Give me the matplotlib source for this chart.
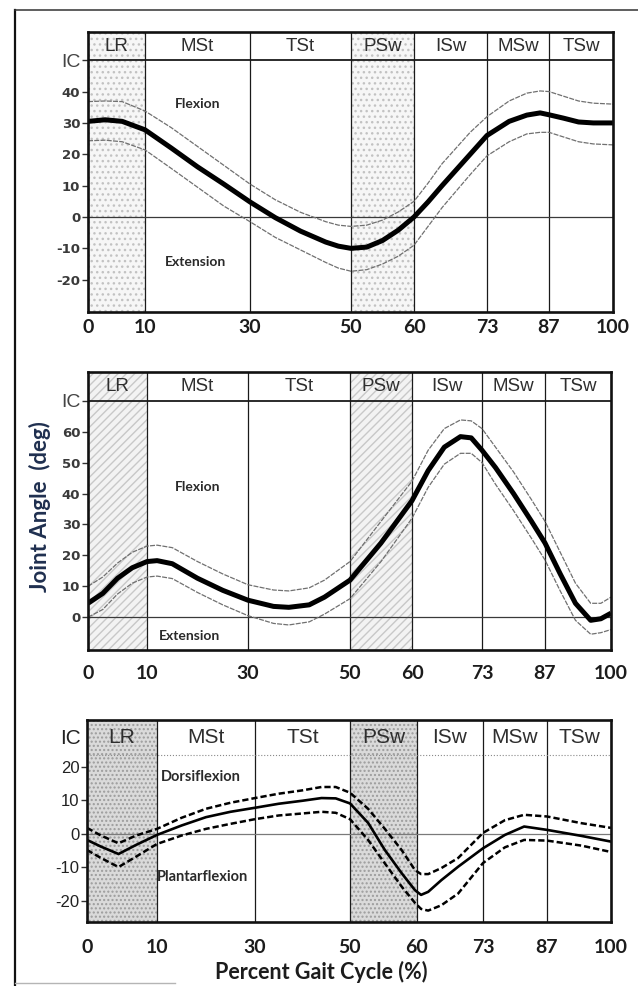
import numpy as np
import matplotlib.pyplot as plt
from matplotlib.lines import Line2D

# Gait phases (percent of gait cycle)
phaseBounds = [0, 10, 30, 50, 60, 73, 87, 100]
phaseNames = ['LR', 'MSt', 'TSt', 'PSw', 'ISw', 'MSw', 'TSw']
doubleSupport = [(0, 10), (50, 60)]

# Hip joint angle
hipPct = [0, 3, 6, 10, 15, 20, 25, 30, 35, 40, 45, 47.5, 50, 52.5, 55, 57.5, 60, 62.5, 65, 70, 73, 78, 82, 85, 87, 90, 93, 96, 100]
hipMean = [30.5, 31, 30.5, 27.8, 22, 16, 10.5, 4.8, -0.2, -4.5, -8, -9.3, -10, -9.6, -7.5, -4.2, 0, 4.8, 10, 20, 26, 30.5, 32.5, 33.2, 32.6, 31.5, 30.3, 30, 30]
hipUpper = [36.8, 37, 36.8, 33.8, 28.5, 22.5, 16.5, 10.5, 5.5, 1.5, -1.5, -2.6, -3, -2.6, -1, 1.6, 5, 10.8, 17, 27, 32, 37, 39.5, 40.2, 40, 38.5, 37, 36.3, 36]
hipLower = [24.3, 24.5, 24, 21.4, 15.5, 9.5, 3.5, -1.5, -6.5, -10.5, -14.5, -16.3, -17.3, -16.8, -15, -12.5, -9, -3, 3, 13.5, 19.5, 24, 26.5, 27, 27, 25.5, 24, 23.3, 23]

# Knee joint angle
kneePct = [0, 2.5, 5, 7.5, 10, 12, 15, 20, 25, 30, 35, 38, 42, 45, 50, 55, 60, 63, 66, 69, 71, 73, 76, 80, 84, 87, 90, 93, 96, 98, 100]
kneeMean = [4.5, 7.7, 12.6, 16, 18, 18.3, 17.3, 12.6, 8.7, 5.5, 3.5, 3.2, 4, 6.5, 12, 24, 37.7, 47.4, 55, 58.4, 58, 54, 48.4, 40, 31, 24, 14, 4.5, -1, -0.5, 1.3]
kneeUpper = [10, 13, 17.5, 21, 23, 23.3, 22.5, 18, 14, 10.5, 8.8, 8.5, 9.5, 12, 18, 31, 44, 54, 61, 63.8, 63.5, 61, 55, 47, 38, 31, 21, 11, 4.5, 4.5, 6.5]
kneeLower = [0, 2.5, 7.5, 11, 13, 13.3, 12.5, 8, 4, 0.5, -2, -2.5, -1.5, 1, 6, 18, 32, 42, 49.5, 53, 53, 50, 43, 34.5, 25.5, 18.5, 8.5, -1, -5.5, -5, -4]

# Ankle joint angle
anklePct = [0, 2, 4.5, 7, 10, 15, 20, 25, 30, 35, 40, 44, 47, 50, 52.7, 55.2, 57.7, 59.7, 60.8, 62.2, 64.8, 68.1, 73, 77.8, 82, 87, 94, 100]
ankleMean = [-1.8, -3.8, -6, -3.3, -0.3, 2.5, 5, 6.6, 7.8, 9, 9.9, 10.7, 10.6, 9.1, 3.3, -4.8, -11.7, -16.8, -18.2, -17.3, -13.8, -9.8, -4.3, -0.3, 2.2, 1.2, -0.6, -2.3]
ankleUpper = [1.8, -0.5, -2.8, -0.5, 1.5, 4.8, 7.5, 9.3, 10.7, 12, 13, 14, 14, 12.3, 7.5, 1.5, -4.8, -10.8, -12, -12, -10.2, -7.2, 0.3, 4.1, 5.7, 5.2, 3.2, 1.8]
ankleLower = [-4.8, -7.2, -9.9, -6.8, -3, -0.5, 1.5, 3, 4.4, 5.5, 6.1, 6.6, 6.3, 4.4, -1.8, -8.8, -15.7, -20.6, -22.4, -22.9, -21.3, -17.8, -8.7, -4, -1.8, -2, -3.5, -5.4]

W, H = 638, 986
tickFont = 'Lato'
phaseFont = 'Liberation Sans'


def AxesFromPixels(fig, left, top, right, bottom):
    return fig.add_axes([left/W, 1 - bottom/H, (right - left)/W, (bottom - top)/H])


def SetPhaseScale(ax, pixBounds):
    # phases are not drawn to scale, so map percent -> horizontal position piecewise
    def forward(x):
        return np.interp(x, phaseBounds, pixBounds)

    def inverse(p):
        return np.interp(p, pixBounds, phaseBounds)
    ax.set_xscale('function', functions=(forward, inverse))
    ax.set_xlim(0, 100)


def PlotPanel(ax, pixBounds, yLim, yTicks, icLevel, shadeFace, shadeHatchColor, hatch,
              icLineStyle, zeroColor, headerSize, tickPad):
    SetPhaseScale(ax, pixBounds)
    ax.set_ylim(yLim)

    for start, end in doubleSupport:
        ax.axvspan(start, end, facecolor=shadeFace, edgecolor=shadeHatchColor,
                   hatch=hatch, linewidth=0, zorder=0)
    for b in phaseBounds[1:-1]:
        ax.axvline(b, color='#1a1a1a', lw=0.9, zorder=1)
    ax.axhline(0, color=zeroColor, lw=0.9, zorder=1)
    ax.axhline(icLevel, color=icLineStyle[0], lw=icLineStyle[1], ls=icLineStyle[2], zorder=1)

    headerMid = (icLevel + yLim[1])/2
    for i, name in enumerate(phaseNames):
        xMid = (phaseBounds[i] + phaseBounds[i + 1])/2
        ax.text(xMid, headerMid, name, ha='center', va='center', fontsize=headerSize,
                family=phaseFont, color='#2e2e2e', zorder=3)

    for side in ax.spines.values():
        side.set_linewidth(1.9)
        side.set_color('#111111')
        side.set_zorder(5)

    ax.set_xticks(phaseBounds)
    ax.set_xticklabels([str(b) for b in phaseBounds], fontsize=14, family=tickFont,
                       fontweight='bold', color='#1c1c1c')
    ax.tick_params(axis='x', length=0, pad=tickPad)
    ax.tick_params(axis='y', length=4, width=1, direction='out', pad=1.5, color='#333333')


fig = plt.figure(figsize=(W/100, H/100), dpi=100)

# Hip
ax1 = AxesFromPixels(fig, 88, 32, 613, 312)
PlotPanel(ax1, [88, 145, 250, 351, 414, 487, 549, 613], (-30.3, 59), [-20, -10, 0, 10, 20, 30, 40], 50,
          '#f6f6f6', '#c2c2c2', '...', ('#1a1a1a', 1.3, '-'), '#3a3a3a', 13.5, 5)
ax1.plot(hipPct, hipUpper, color='#707070', lw=0.9, ls=(0, (4, 1)), zorder=2)
ax1.plot(hipPct, hipLower, color='#707070', lw=0.9, ls=(0, (4, 1)), zorder=2)
ax1.plot(hipPct, hipMean, color='black', lw=3.6, solid_joinstyle='round', solid_capstyle='butt', zorder=4)
ax1.text(20, 36, 'Flexion', ha='center', va='center', fontsize=10, family=tickFont, fontweight='bold', color='#2a2a2a')
ax1.text(19.7, -14.4, 'Extension', ha='center', va='center', fontsize=10, family=tickFont, fontweight='bold', color='#2a2a2a')

# Knee
ax2 = AxesFromPixels(fig, 88, 372, 611, 650)
PlotPanel(ax2, [88, 147, 248, 350, 412, 482, 545, 611], (-10.6, 79.3), [0, 10, 20, 30, 40, 50, 60], 70,
          '#f3f3f3', '#c8c8c8', '////', ('#1a1a1a', 1.3, '-'), '#3a3a3a', 13.5, 11)
ax2.plot(kneePct, kneeUpper, color='#707070', lw=0.9, ls=(0, (4, 1)), zorder=2)
ax2.plot(kneePct, kneeLower, color='#707070', lw=0.9, ls=(0, (4, 1)), zorder=2)
ax2.plot(kneePct, kneeMean, color='black', lw=3.6, solid_joinstyle='round', solid_capstyle='butt', zorder=4)
ax2.text(20, 42, 'Flexion', ha='center', va='center', fontsize=10, family=tickFont, fontweight='bold', color='#2a2a2a')
ax2.text(18.5, -6, 'Extension', ha='center', va='center', fontsize=10, family=tickFont, fontweight='bold', color='#2a2a2a')

# Ankle
ax3 = AxesFromPixels(fig, 87, 720, 611, 922)
PlotPanel(ax3, [87, 157, 255, 350, 417, 483, 547, 611], (-26.3, 34), [-20, -10, 0, 10, 20], 23.5,
          '#dadada', '#9c9c9c', '....', ('#8a8a8a', 0.8, ':'), '#7a7a7a', 15, 12)
ax3.plot(anklePct, ankleUpper, color='black', lw=1.8, ls=(0, (2.5, 1.2)), zorder=2)
ax3.plot(anklePct, ankleLower, color='black', lw=1.8, ls=(0, (2.5, 1.2)), zorder=2)
ax3.plot(anklePct, ankleMean, color='black', lw=1.9, solid_joinstyle='round', zorder=4)
ax3.text(10.8, 17, 'Dorsiflexion', ha='left', va='center', fontsize=10.5, family=tickFont, fontweight='bold', color='#2a2a2a')
ax3.text(10.0, -12.8, 'Plantarflexion', ha='left', va='center', fontsize=10.5, family=tickFont, fontweight='bold', color='#2a2a2a')

# y tick labels: hip and knee carry the IC mark on the header line
for ax, ticks, ic in [(ax1, [-20, -10, 0, 10, 20, 30, 40], 50), (ax2, [0, 10, 20, 30, 40, 50, 60], 70)]:
    ax.set_yticks(ticks + [ic])
    ax.set_yticklabels([str(t) for t in ticks] + ['IC'])
    for lab in ax.get_yticklabels()[:-1]:
        lab.set_fontfamily('DejaVu Sans')
        lab.set_fontweight('bold')
        lab.set_fontsize(9.5)
        lab.set_color('#3a3a3a')
    icLab = ax.get_yticklabels()[-1]
    icLab.set_fontfamily(phaseFont)
    icLab.set_fontsize(14)
    icLab.set_color('#444444')

ax3.set_yticks([-20, -10, 0, 10, 20])
ax3.set_yticklabels(['-20', '-10', '0', '10', '20'], fontsize=12, family=phaseFont, color='#222222')
ax3.text(-0.012, 28.5, 'IC', transform=ax3.get_yaxis_transform(), ha='right', va='center',
         fontsize=15, family=phaseFont, color='#222222')

fig.text(40/W, 1 - 507/H, 'Joint Angle  (deg)', rotation=90, ha='center', va='center',
         fontsize=16, family=tickFont, fontweight='bold', color='#1f2f4f')
fig.text(321/W, 1 - 972/H, 'Percent Gait Cycle (%)', ha='center', va='center',
         fontsize=15.5, family=tickFont, fontweight='bold', color='#1c1c1c')

# outer frame
fig.add_artist(Line2D([15/W, 15/W], [0, 1 - 10/H], color='#111111', lw=1.6))
fig.add_artist(Line2D([15/W, 1], [1 - 10/H, 1 - 10/H], color='#333333', lw=1.1))
fig.add_artist(Line2D([15/W, 175/W], [1 - 983/H, 1 - 983/H], color='#b5b5b5', lw=1.0))

fig.savefig('out.png', dpi=100)
